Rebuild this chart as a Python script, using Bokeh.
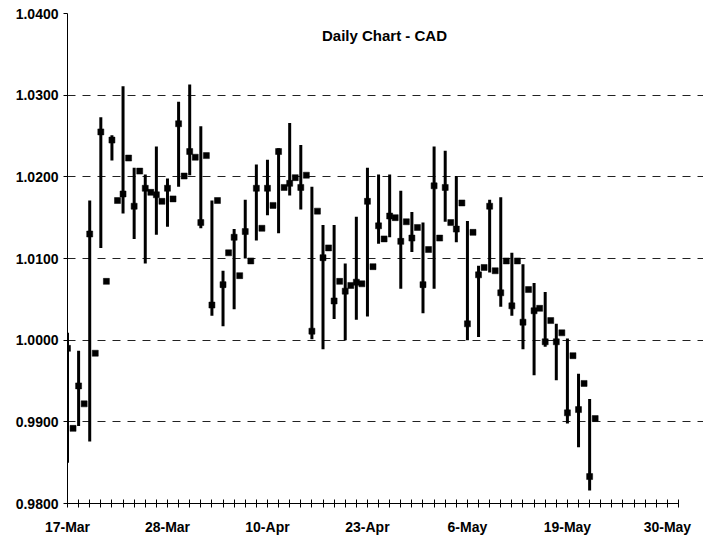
from bokeh.plotting import figure
from bokeh.models import Range1d, FixedTicker, NumeralTickFormatter, Label, ColumnDataSource
from bokeh.embed import file_html
from bokeh.resources import INLINE

# ---- data (category index = trading slot on the axis) ----
bar_days = list(range(0, 95, 2))
bar_high = [1.0009, 0.9987, 1.0171, 1.0273, 1.0251, 1.0311, 1.0211, 1.0203, 1.0237, 1.0198,
            1.0292, 1.0313, 1.0262, 1.0171, 1.0085, 1.0136, 1.0172, 1.0215, 1.0221, 1.0235,
            1.0266, 1.0239, 1.0188, 1.0141, 1.0141, 1.0094, 1.0151, 1.0211, 1.0203, 1.0203,
            1.0183, 1.0157, 1.0144, 1.0237, 1.0232, 1.0201, 1.0146, 1.0091, 1.0172, 1.0175,
            1.0107, 1.0093, 1.0070, 1.0059, 1.0020, 1.0002, 0.9959, 0.9928]
bar_low = [0.9850, 0.9895, 0.9876, 1.0113, 1.0220, 1.0155, 1.0124, 1.0094, 1.0129, 1.0139,
           1.0188, 1.0202, 1.0137, 1.0030, 1.0017, 1.0038, 1.0100, 1.0122, 1.0153, 1.0131,
           1.0177, 1.0160, 1.0001, 0.9989, 1.0026, 1.0000, 1.0025, 1.0029, 1.0118, 1.0126,
           1.0063, 1.0108, 1.0033, 1.0063, 1.0145, 1.0120, 1.0000, 1.0004, 1.0083, 1.0041,
           1.0030, 0.9989, 0.9957, 0.9992, 0.9951, 0.9898, 0.9869, 0.9816]
close_days = list(range(0, 96))
close_vals = [0.9990, 0.9892, 0.9944, 0.9922, 1.0130, 0.9984, 1.0255, 1.0072, 1.0245, 1.0171,
              1.0179, 1.0223, 1.0164, 1.0207, 1.0186, 1.0181, 1.0178, 1.0170, 1.0186, 1.0173,
              1.0265, 1.0201, 1.0231, 1.0224, 1.0144, 1.0226, 1.0043, 1.0171, 1.0068, 1.0107,
              1.0126, 1.0079, 1.0133, 1.0097, 1.0186, 1.0137, 1.0186, 1.0165, 1.0231, 1.0187,
              1.0192, 1.0199, 1.0187, 1.0202, 1.0011, 1.0158, 1.0101, 1.0113, 1.0048, 1.0072,
              1.0060, 1.0067, 1.0071, 1.0069, 1.0170, 1.0090, 1.0140, 1.0124, 1.0152, 1.0150,
              1.0121, 1.0145, 1.0125, 1.0138, 1.0068, 1.0111, 1.0189, 1.0125, 1.0187, 1.0144,
              1.0136, 1.0168, 1.0020, 1.0132, 1.0080, 1.0089, 1.0164, 1.0085, 1.0058, 1.0097,
              1.0042, 1.0097, 1.0022, 1.0062, 1.0036, 1.0039, 0.9998, 1.0024, 0.9998, 1.0009,
              0.9911, 0.9981, 0.9915, 0.9947, 0.9833, 0.9904]
tick_days = list(range(0, 111, 2))
label_days = [0, 18, 36, 54, 72, 90, 108]
tick_labels = ["17-Mar", "28-Mar", "10-Apr", "23-Apr", "6-May", "19-May", "30-May"]
y_ticks = [0.98, 0.99, 1.00, 1.01, 1.02, 1.03, 1.04]
title_text = "Daily Chart - CAD"

FONT = "Liberation Sans"

p = figure(width=703, height=538, output_backend="svg", toolbar_location=None,
           x_range=Range1d(0, 114.5), y_range=Range1d(0.98, 1.04),
           min_border_left=67, min_border_right=0, min_border_top=13, min_border_bottom=35)
p.outline_line_color = None
p.background_fill_color = "white"
p.border_fill_color = "white"

bars = ColumnDataSource(dict(x=bar_days, hi=bar_high, lo=bar_low))
closes = ColumnDataSource(dict(x=close_days, c=close_vals))
p.segment(x0="x", y0="lo", x1="x", y1="hi", source=bars, line_color="black",
          line_width=3, line_cap="butt")
p.scatter(x="x", y="c", source=closes, marker="square", size=6,
          fill_color="black", line_color="black", line_width=0.5)

# grid
p.xgrid.visible = False
p.ygrid.ticker = FixedTicker(ticks=y_ticks)
p.ygrid.grid_line_color = "#222222"
p.ygrid.grid_line_dash = "8 7"
p.ygrid.grid_line_width = 1

# x axis
xa = p.xaxis[0]
xa.ticker = FixedTicker(ticks=tick_days)
overrides = {d: "" for d in tick_days}
for d, t in zip(label_days, tick_labels):
    overrides[d] = t
xa.major_label_overrides = overrides
xa.bounds = (0, 110)
xa.major_tick_in = 4
xa.major_tick_out = 4
xa.minor_tick_line_color = None
xa.axis_line_color = "black"
xa.major_tick_line_color = "black"
xa.major_label_text_font = FONT
xa.major_label_text_font_style = "bold"
xa.major_label_text_font_size = "14px"
xa.major_label_text_color = "black"
xa.major_label_standoff = 11

# y axis
ya = p.yaxis[0]
ya.ticker = FixedTicker(ticks=y_ticks)
ya.formatter = NumeralTickFormatter(format="0.0000")
ya.major_tick_in = 0
ya.major_tick_out = 4
ya.minor_tick_line_color = None
ya.axis_line_color = "black"
ya.major_tick_line_color = "black"
ya.major_label_text_font = FONT
ya.major_label_text_font_style = "bold"
ya.major_label_text_font_size = "14px"
ya.major_label_text_color = "black"
ya.major_label_standoff = 5

title = Label(x=317, y=468, x_units="screen", y_units="screen", text=title_text,
              text_align="center", text_baseline="middle", text_font=FONT,
              text_font_style="bold", text_font_size="15px", text_color="black")
p.add_layout(title)

open("out.html", "w").write(file_html(p, INLINE))
